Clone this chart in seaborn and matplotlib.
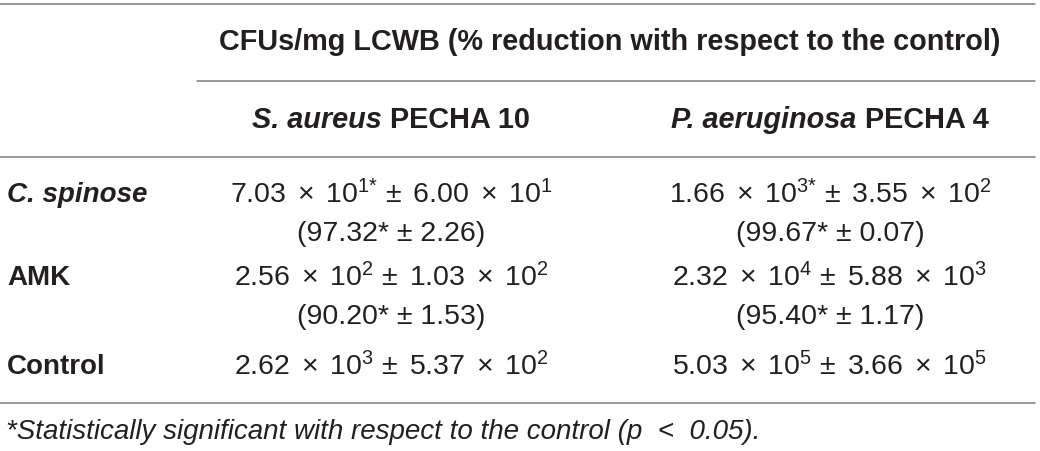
import matplotlib
matplotlib.use('Agg')
import matplotlib.pyplot as plt
import seaborn as sns

# Table values
treatments = ['C. spinose', 'AMK', 'Control']
treatment_italic = [True, False, False]
sa_cfu = [7.03e1, 2.56e2, 2.62e3]
sa_cfu_sd = [6.00e1, 1.03e2, 5.37e2]
sa_red = [97.32, 90.20, None]
sa_red_sd = [2.26, 1.53, None]
pa_cfu = [1.66e3, 2.32e4, 5.03e5]
pa_cfu_sd = [3.55e2, 5.88e3, 3.66e5]
pa_red = [99.67, 95.40, None]
pa_red_sd = [0.07, 1.17, None]
cfu_sig = [True, False, False]
red_sig = [True, True, False]

header_top = 'CFUs/mg LCWB (% reduction with respect to the control)'
strains = [('S. aureus', 'PECHA 10'), ('P. aeruginosa', 'PECHA 4')]
footnote = '*Statistically significant with respect to the control (p  <  0.05).'

sns.set_theme(style='white')
plt.rcParams['font.family'] = ['Liberation Sans', 'DejaVu Sans']
plt.rcParams['mathtext.fontset'] = 'custom'
plt.rcParams['mathtext.rm'] = 'Liberation Sans'
plt.rcParams['mathtext.it'] = 'Liberation Sans:italic'
plt.rcParams['mathtext.bf'] = 'Liberation Sans:bold'
plt.rcParams['mathtext.default'] = 'regular'

txt = '#231f20'
rule = '#7d7d7d'
body_size = 20.5
head_size = 20.8

fig = plt.figure(figsize=(10.4, 4.52), dpi=100)
ax = fig.add_axes([0, 0, 1, 1])
ax.set_xlim(0, 1040)
ax.set_ylim(452, 0)
ax.axis('off')
renderer = fig.canvas.get_renderer()


def sci(v, star=False):
    m, e = f'{v:.2e}'.split('e')
    sup = str(int(e)) + ('{*}' if star else '')
    return m + ' $\\,$\u00d7$\\,$ 10$^{' + sup + '}$'


def segments(x, y, segs, size, gap=0.28):
    # place (text, style, weight) pieces side by side, centred on x
    items = []
    for s, style, weight in segs:
        t = ax.text(0, y, s, fontsize=size, fontstyle=style, fontweight=weight,
                    color=txt, ha='left', va='center')
        w = t.get_window_extent(renderer).width
        items.append((t, w))
    total = sum(w for _, w in items) + gap * size * 100 / 72 * (len(items) - 1)
    cur = x - total / 2
    for t, w in items:
        t.set_x(cur)
        cur += w + gap * size * 100 / 72


# rules
ax.plot([0, 1035], [5, 5], color=rule, lw=1.1)
ax.plot([197, 1035], [82, 82], color=rule, lw=1.1)
ax.plot([0, 1035], [158, 158], color=rule, lw=1.1)
ax.plot([0, 1035], [404, 404], color=rule, lw=1.1)

# headers
ax.text(610, 42, header_top, fontsize=head_size, fontweight='bold', color=txt,
        ha='center', va='center')
col_x = [391, 830]
for cx, (sp, strain) in zip(col_x, strains):
    segments(cx, 120, [(sp, 'italic', 'bold'), (strain, 'normal', 'bold')], head_size)

# body rows
row_y = [195, 278, 367]
for i, name in enumerate(treatments):
    ax.text(7, row_y[i], name, fontsize=20, fontweight='bold',
            fontstyle='italic' if treatment_italic[i] else 'normal',
            color=txt, ha='left', va='center')
    for cx, cfu, sd, red, rsd in zip(col_x, [sa_cfu, pa_cfu], [sa_cfu_sd, pa_cfu_sd],
                                     [sa_red, pa_red], [sa_red_sd, pa_red_sd]):
        line1 = sci(cfu[i], cfu_sig[i]) + ' \u00b1$\\,$ ' + sci(sd[i])
        ax.text(cx, row_y[i], line1, fontsize=body_size, color=txt,
                ha='center', va='center')
        if red[i] is not None:
            line2 = f'({red[i]:.2f}' + ('*' if red_sig[i] else '') + f' \u00b1 {rsd[i]:.2f})'
            ax.text(cx, row_y[i] + 39, line2, fontsize=body_size, color=txt,
                    ha='center', va='center')

ax.text(6, 432, footnote, fontsize=20, fontstyle='italic', color=txt,
        ha='left', va='center')

fig.savefig('out.png', dpi=100)
